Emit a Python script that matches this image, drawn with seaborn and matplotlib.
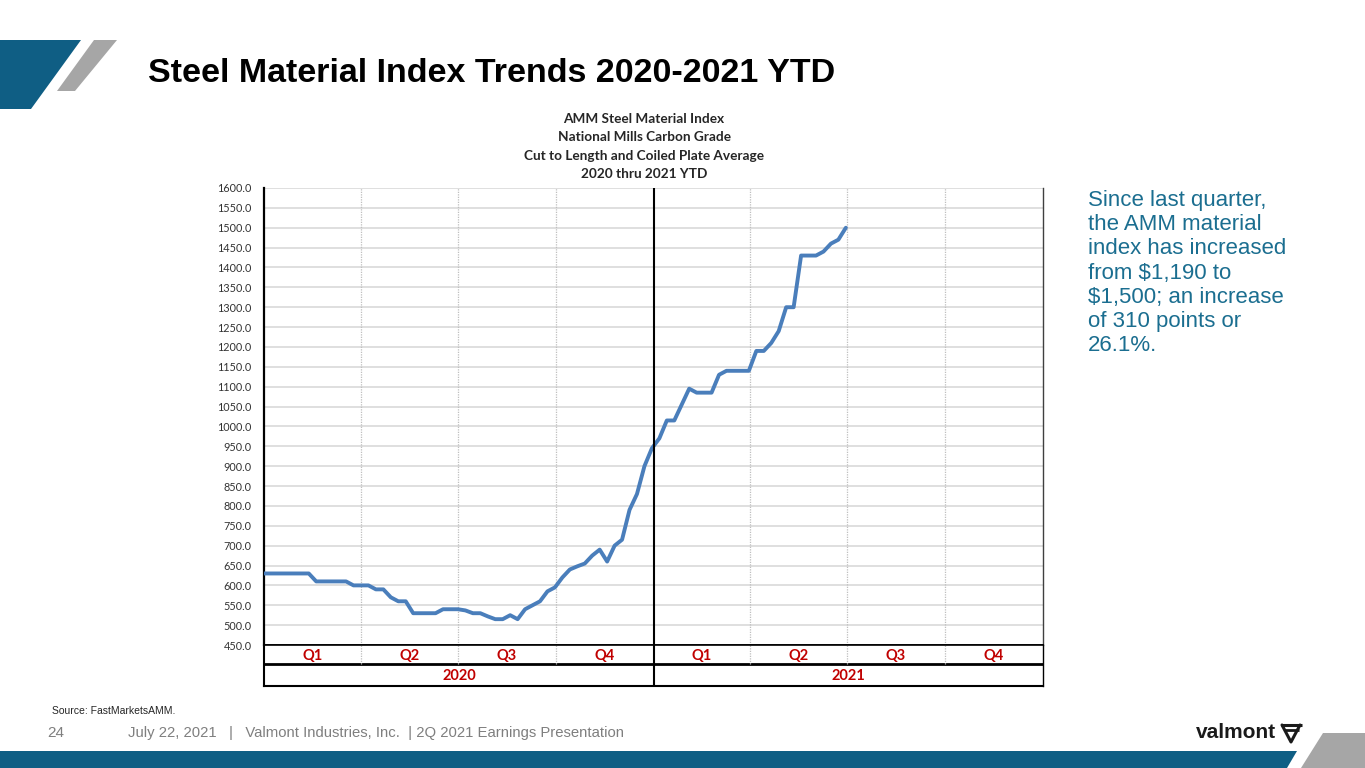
import numpy as np
import pandas as pd
import seaborn as sns
import matplotlib.pyplot as plt
from matplotlib.patches import Polygon

# weekly AMM index readings, first week of 2020 through end of June 2021
index_values = [630, 630, 630, 630, 630, 630, 630,
                610, 610, 610, 610, 610,
                600, 600, 600,
                590, 590, 570, 560, 560,
                530, 530, 530, 530,
                540, 540, 540, 537, 530, 530, 522, 515, 515, 525, 515,
                540, 550, 560, 585, 595, 620, 640, 648, 655, 675, 690, 660,
                700, 715, 790, 830, 900, 945, 970, 1015, 1015, 1055, 1095,
                1085, 1085, 1085, 1130, 1140, 1140, 1140, 1140, 1190, 1190,
                1210, 1240, 1300, 1300, 1430, 1430, 1430, 1440, 1460, 1470, 1500]
quarter_labels = ['Q1', 'Q2', 'Q3', 'Q4']
year_labels = ['2020', '2021']
y_ticks = list(range(450, 1601, 50))

chart_title = ['AMM Steel Material Index', 'National Mills Carbon Grade',
               'Cut to Length and Coiled Plate Average', '2020 thru 2021 YTD']
side_note = ('Since last quarter,\nthe AMM material\nindex has increased\nfrom $1,190 to\n'
             '$1,500; an increase\nof 310 points or\n26.1%.')

dates = pd.date_range('2020-01-01', periods=len(index_values), freq='7D')
df = pd.DataFrame({'date': dates, 'index': index_values})

sns.set_style('white')
plt.rcParams['font.family'] = ['Liberation Sans', 'DejaVu Sans']

W, H = 1365, 768
BLUE = '#0F5E84'
GREY = '#A6A6A6'
RED = '#C00000'


def box(l, t, r, b):
    return [l / W, 1 - b / H, (r - l) / W, (b - t) / H]


fig = plt.figure(figsize=(13.65, 7.68), dpi=100)

# slide background and decorations
bg = fig.add_axes([0, 0, 1, 1])
bg.set_xlim(0, W)
bg.set_ylim(H, 0)
bg.axis('off')
bg.add_patch(Polygon([(0, 40), (81, 40), (31, 109), (0, 109)], color=BLUE, lw=0))
bg.add_patch(Polygon([(94, 40), (117, 40), (75, 91), (57, 91)], color=GREY, lw=0))
bg.add_patch(Polygon([(0, 751), (1297, 751), (1287, 768), (0, 768)], color=BLUE, lw=0))
bg.add_patch(Polygon([(1323, 733), (1365, 733), (1365, 768), (1301, 768)], color=GREY, lw=0))

bg.text(148, 74, 'Steel Material Index Trends 2020-2021 YTD', fontsize=24.5,
        fontweight='bold', color='black', va='center', ha='left')
bg.text(1088, 190, side_note, fontsize=16, color='#1B6E90', va='top', ha='left',
        linespacing=1.2)
bg.text(52, 711, 'Source: FastMarketsAMM.', fontsize=7.5, color='#262626', va='center',
        family=['Liberation Sans Narrow', 'Liberation Sans'])
bg.text(47, 733, '24', fontsize=11, color='#7F7F7F', va='center',
        family=['Liberation Sans Narrow', 'Liberation Sans'])
bg.text(128, 733, 'July 22, 2021   |   Valmont Industries, Inc.  | 2Q 2021 Earnings Presentation',
        fontsize=10.7, color='#7F7F7F', va='center',
        family=['Liberation Sans Narrow', 'Liberation Sans'])
bg.text(1276, 733, 'valmont', fontsize=15, fontweight='bold', color='#1A1A1A',
        va='center', ha='right')
# small emblem next to the logo word
bg.plot([1281, 1302], [725, 725], color='#1A1A1A', lw=2.2, solid_capstyle='butt')
bg.plot([1284, 1299], [730, 730], color='#1A1A1A', lw=2, solid_capstyle='butt')
bg.plot([1282, 1291, 1300], [725, 742, 725], color='#1A1A1A', lw=2.2)

for i, line in enumerate(chart_title):
    bg.text(644, 119 + i * 18.3, line, fontsize=9.8, fontweight='bold', color='#262626',
            ha='center', va='center', family=['Lato', 'DejaVu Sans'])

# main chart
ax = fig.add_axes(box(264, 188, 1043, 645))
sns.lineplot(data=df, x='date', y='index', ax=ax, color='#4A7EBB', linewidth=2.8, zorder=3)
start, end = pd.Timestamp('2020-01-01'), pd.Timestamp('2022-01-01')
ax.set_xlim(start, end)
ax.set_ylim(450, 1600)
ax.set_yticks(y_ticks)
ax.set_yticklabels([f'{v:.1f}' for v in y_ticks], family=['Lato', 'DejaVu Sans'],
                   fontsize=7.8, color='#333333')
ax.set_xticks([])
ax.set_xlabel('')
ax.set_ylabel('')
ax.tick_params(axis='y', length=0, pad=9)
ax.grid(axis='y', color='#D9D9D9', lw=1.2)
ax.set_axisbelow(True)
ax.spines['top'].set_visible(False)
ax.spines['left'].set_color('black')
ax.spines['left'].set_linewidth(1.6)
ax.spines['right'].set_color('#404040')
ax.spines['right'].set_linewidth(1)
ax.spines['bottom'].set_color('black')
ax.spines['bottom'].set_linewidth(1.2)

q_edges = pd.date_range(start, end, freq='QS')
for q in q_edges[1:-1]:
    if q.month == 1:
        ax.axvline(q, color='black', lw=1.5, zorder=4)
    else:
        ax.axvline(q, color='#BFBFBF', lw=0.9, ls=(0, (1, 1)), zorder=1)

# quarter / year table under the chart
tb = fig.add_axes(box(264, 645, 1043, 686))
tb.set_xlim(start, end)
tb.set_ylim(0, 41)
tb.set_xticks([])
tb.set_yticks([])
tb.set_facecolor('white')
for side in ['top', 'bottom', 'left', 'right']:
    tb.spines[side].set_color('black')
    tb.spines[side].set_linewidth(1.5)
tb.spines['top'].set_linewidth(1.2)
tb.spines['right'].set_linewidth(1)
tb.axhline(22, color='black', lw=2)
for q in q_edges[1:-1]:
    if q.month == 1:
        tb.axvline(q, color='black', lw=1.5)
    else:
        tb.vlines(q, 22, 41, color='#BFBFBF', lw=0.9, ls=(0, (1, 1)))

for i in range(len(q_edges) - 1):
    mid = q_edges[i] + (q_edges[i + 1] - q_edges[i]) / 2
    tb.text(mid, 30.5, quarter_labels[i % 4], ha='center', va='center', fontsize=10.5,
            fontweight='bold', color=RED, family=['Lato', 'DejaVu Sans'])
for k, yr in enumerate(year_labels):
    a, b = q_edges[4 * k], q_edges[4 * k + 4]
    tb.text(a + (b - a) / 2, 10.5, yr, ha='center', va='center', fontsize=10.5,
            fontweight='bold', color=RED, family=['Lato', 'DejaVu Sans'])

fig.savefig('out.png', dpi=100)
